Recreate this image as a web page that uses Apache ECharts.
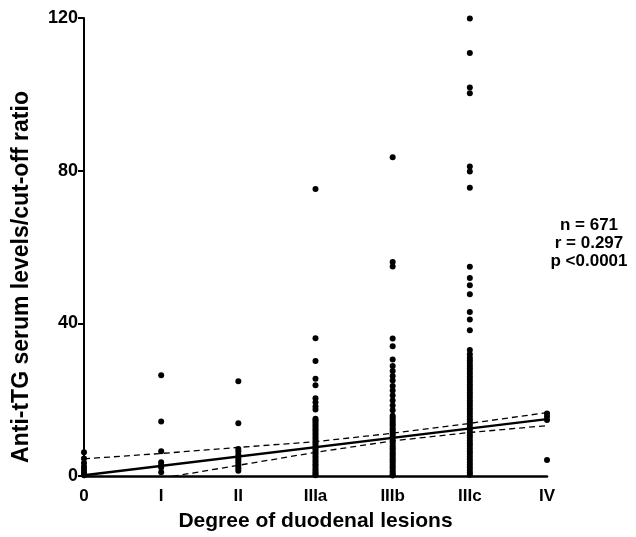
<!DOCTYPE html>
<html>
<head>
<meta charset="utf-8">
<script src="https://cdn.jsdelivr.net/npm/echarts@6/dist/echarts.min.js"></script>
<style>html,body{margin:0;padding:0;background:#fff}#c{width:636px;height:537px}</style>
</head>
<body>
<div id="c"></div>
<script>
var catLabels = ['0', 'I', 'II', 'IIIa', 'IIIb', 'IIIc', 'IV'];
var yTicks = [0, 40, 80, 120];

var grade0 = [6.2, 4.6, 3.4, 2.5, 1.8, 1.1, 0.6, 0.2];
var gradeI = [26.4, 14.3, 6.5, 3.6, 2.9, 2.2, 1.0];
var gradeII = [24.8, 13.8, 7.1, 6.4, 5.6, 4.6, 4.0, 3.4, 2.7, 2.0, 1.4];
var gradeIIIa = [75.2, 36.1, 30.1, 25.5, 23.8, 20.4, 19.3, 18.2, 17.4,
  15.0, 14.6, 14.1, 13.5, 13.0, 12.4, 11.9, 11.3, 10.8, 10.2, 9.7, 9.1, 8.6, 8.0,
  7.5, 7.0, 6.4, 5.9, 5.3, 4.8, 4.2, 3.7, 3.1, 2.6, 2.0, 1.5, 1.0, 0.5, 0.2];
var gradeIIIb = [83.5, 56.1, 54.9, 36.0, 34.0, 30.5, 28.8, 27.5, 26.2, 25.0, 23.6,
  22.4, 21.1, 19.8, 18.5, 17.2, 15.8, 15.3, 14.8, 14.2, 13.7, 13.2, 12.6, 12.1,
  11.6, 11.0, 10.5, 10.0, 9.4, 8.9, 8.4, 7.8, 7.3, 6.8, 6.2, 5.7, 5.2, 4.6, 4.1,
  3.6, 3.0, 2.5, 2.0, 1.4, 0.9, 0.4, 0.1];
var gradeIIIc = [119.9, 110.8, 101.8, 100.3, 81.1, 79.8, 75.5, 54.8, 51.9, 50.0,
  47.6, 43.0, 41.0, 38.2, 33.0, 31.9, 31.0, 30.3, 29.6, 28.9, 28.2, 27.5, 26.8,
  26.1, 25.4, 24.7, 24.0, 23.3, 22.6, 21.9, 21.2, 20.5, 19.8, 19.1, 18.4, 17.7,
  17.0, 16.3, 15.6, 14.9, 14.2, 13.5, 12.8, 12.1, 11.4, 10.7, 10.0, 9.3, 8.6,
  7.9, 7.2, 6.5, 5.8, 5.1, 4.4, 3.7, 3.0, 2.3, 1.6, 0.9, 0.3];
var gradeIV = [16.4, 15.6, 14.7, 4.2];

var fitX = [0, 6];
var fitY = [0.2, 14.9];
var bandX = [0, 1, 2, 3, 4, 5, 6];
var bandUpper = [4.5, 5.9, 7.5, 9.0, 11.2, 13.8, 16.6];
var bandLower = [-4.2, -0.6, 2.8, 6.2, 9.2, 11.4, 13.2];

var groups = [grade0, gradeI, gradeII, gradeIIIa, gradeIIIb, gradeIIIc, gradeIV];
var pts = [];
groups.forEach(function (g, i) { g.forEach(function (v) { pts.push([i, v]); }); });
function pairs(xs, ys) { return xs.map(function (x, i) { return [x, ys[i]]; }); }

var font = '"Liberation Sans", Arial, Helvetica, sans-serif';
var chart = echarts.init(document.getElementById('c'));
chart.setOption({
  animation: false,
  backgroundColor: '#fff',
  grid: { left: 84, right: 89, top: 18, bottom: 60, containLabel: false },
  xAxis: {
    type: 'value', min: 0, max: 6, interval: 1,
    name: 'Degree of duodenal lesions', nameLocation: 'middle', nameGap: 35,
    nameTextStyle: { fontFamily: font, fontWeight: 'bold', fontSize: 21, color: '#000' },
    axisLine: { show: true, onZero: false, lineStyle: { color: '#000', width: 2.5 } },
    axisTick: { show: false },
    splitLine: { show: false },
    axisLabel: {
      margin: 12, fontFamily: font, fontWeight: 'bold', fontSize: 17, color: '#000',
      formatter: function (v) { return catLabels[Math.round(v)]; }
    }
  },
  yAxis: {
    type: 'value', min: 0, max: 120, interval: 40,
    axisLine: { show: true, lineStyle: { color: '#000', width: 2 } },
    axisTick: { show: true, length: 6, lineStyle: { color: '#000', width: 2 } },
    splitLine: { show: false },
    axisLabel: {
      margin: 6, fontFamily: font, fontWeight: 'bold', fontSize: 18, color: '#000',
      formatter: function (v) { return yTicks.indexOf(v) >= 0 ? String(v) : ''; }
    }
  },
  graphic: [{
    type: 'text', x: 22, y: 277, rotation: Math.PI / 2,
    style: {
      text: 'Anti-tTG serum levels/cut-off ratio', align: 'center', verticalAlign: 'middle',
      fontFamily: font, fontWeight: 'bold', fontSize: 23, fill: '#000'
    }
  }, {
    type: 'text', x: 589, y: 243,
    style: {
      text: 'n = 671\nr = 0.297\np <0.0001', align: 'center', verticalAlign: 'middle',
      fontFamily: font, fontWeight: 'bold', fontSize: 17, lineHeight: 18, fill: '#000'
    }
  }],
  series: [
    { type: 'scatter', data: pts, symbol: 'circle', symbolSize: 6,
      itemStyle: { color: '#000', opacity: 1 }, z: 3 },
    { type: 'line', data: pairs(fitX, fitY), showSymbol: false, symbol: 'none',
      lineStyle: { color: '#000', width: 2.5 }, z: 4 },
    { type: 'line', data: pairs(bandX, bandUpper), showSymbol: false, symbol: 'none', clip: true,
      lineStyle: { color: '#000', width: 1.3, type: [6, 4] }, z: 4 },
    { type: 'line', data: pairs(bandX, bandLower), showSymbol: false, symbol: 'none', clip: true,
      lineStyle: { color: '#000', width: 1.3, type: [6, 4] }, z: 4 }
  ]
});
</script>
</body>
</html>
